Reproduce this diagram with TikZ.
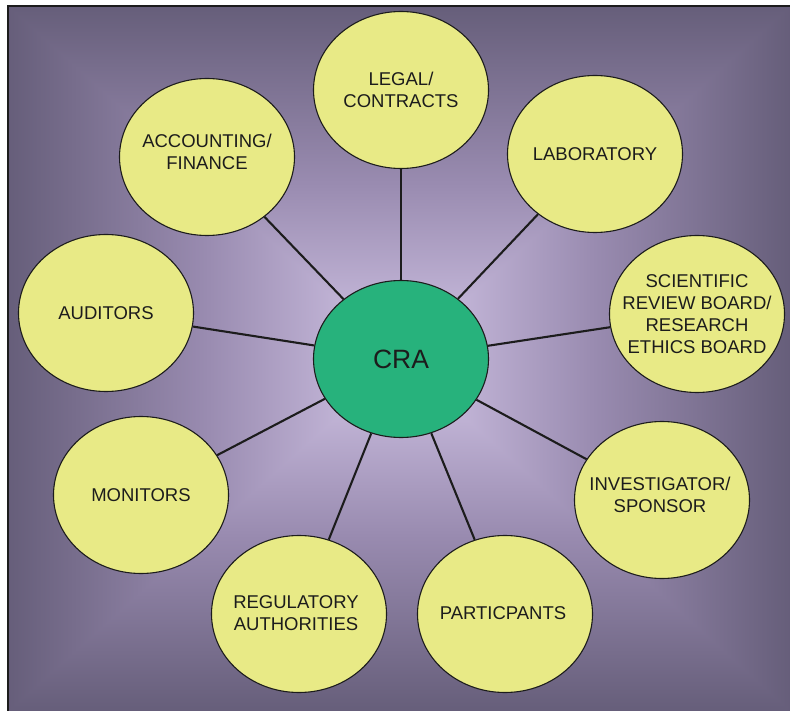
\documentclass[tikz,border=0pt]{standalone}
\usepackage{fontspec}
\setmainfont{Liberation Sans}
\usetikzlibrary{shapes.geometric}
\definecolor{bubblefill}{HTML}{E8EA86}
\definecolor{crafill}{HTML}{27B27C}
\definecolor{bgedge}{HTML}{665E7A}
\definecolor{bgmid}{HTML}{998BB0}
\definecolor{bgcenter}{HTML}{D2C5E6}
\definecolor{ink}{HTML}{1C1C1C}
\begin{document}
\begin{tikzpicture}[x=1pt,y=-1pt,
  bubble/.style={ellipse, draw=ink, line width=1.1pt, fill=bubblefill,
    minimum width=175pt, minimum height=157pt, inner sep=0pt},
  lbl/.style={align=center, font=\fontsize{18.5}{22}\selectfont, text=ink},
  link/.style={line width=2.1pt, draw=ink}]
\useasboundingbox (0,0) rectangle (790,711);
\fill[white] (0,0) rectangle (790,711);
\coordinate (c) at (401,359);
% background: rectangular "from centre" gradient
\shade[left color=bgedge, right color=bgcenter, middle color=bgmid] (8,6) rectangle (402,711);
\shade[left color=bgcenter, right color=bgedge, middle color=bgmid] (400,6) rectangle (790,711);
\shade[top color=bgedge, bottom color=bgcenter, middle color=bgmid] (8,6) -- (790,6) -- (c) -- cycle;
\shade[top color=bgcenter, bottom color=bgedge, middle color=bgmid] (8,711) -- (790,711) -- (c) -- cycle;
\draw[line width=1.2pt, ink] (8,711) -- (8,6) -- (790,6);
% nodes
\node[bubble, fill=crafill] (cra) at (401,359) {};
\node[lbl, font=\fontsize{26.5}{30}\selectfont] (cratext) at (cra.center) {CRA};
\node[bubble] (legal) at (401,90) {};
\node[lbl] (legaltext) at (legal.center) {LEGAL/\\CONTRACTS};
\node[bubble] (acc) at (207,157) {};
\node[lbl] (acctext) at (207,152) {ACCOUNTING/\\FINANCE};
\node[bubble] (lab) at (595,154) {};
\node[lbl] (labtext) at (lab.center) {LABORATORY};
\node[bubble] (sci) at (697,314) {};
\node[lbl] (scitext) at (sci.center) {SCIENTIFIC\\REVIEW BOARD/\\RESEARCH\\ETHICS BOARD};
\node[bubble] (aud) at (106,313) {};
\node[lbl] (audtext) at (aud.center) {AUDITORS};
\node[bubble] (inv) at (662,500) {};
\node[lbl] (invtext) at (660,495) {INVESTIGATOR/\\SPONSOR};
\node[bubble] (mon) at (141,495) {};
\node[lbl] (montext) at (mon.center) {MONITORS};
\node[bubble] (reg) at (299,614) {};
\node[lbl] (regtext) at (296,613) {REGULATORY\\AUTHORITIES};
\node[bubble] (par) at (505,614) {};
\node[lbl] (partext) at (503,613) {PARTICPANTS};
% connectors
\foreach \n in {legal,acc,lab,sci,aud,inv,mon,reg,par}
  \draw[link] (cra) -- (\n);
\end{tikzpicture}
\end{document}
